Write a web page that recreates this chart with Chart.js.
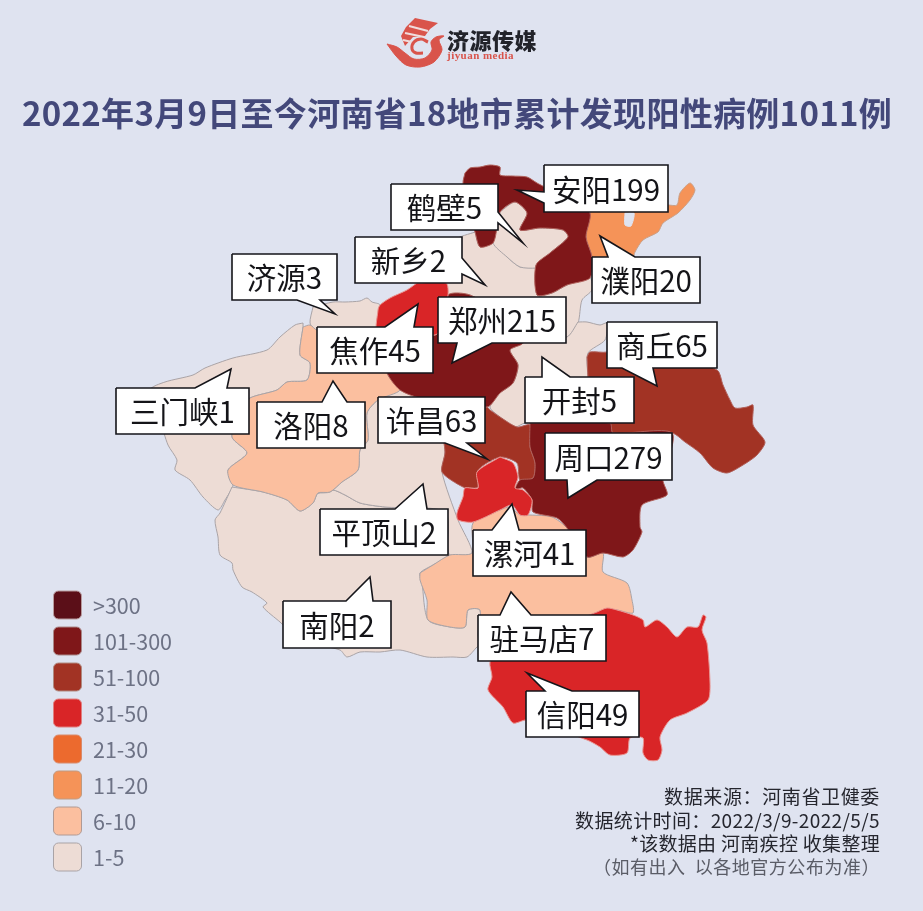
<!DOCTYPE html>
<html lang="zh"><head><meta charset="utf-8">
<style>html,body{margin:0;padding:0;background:#dfe3f0}canvas{display:block}</style>
<script src="https://cdn.jsdelivr.net/npm/chart.js@4"></script>
</head><body><canvas id="c" width="923" height="911"></canvas>
<script>
const titleText='2022年3月9日至今河南省18地市累计发现阳性病例1011例';
const regionNames=['三门峡','南阳','平顶山','济源','新乡','鹤壁','开封','洛阳','驻马店','濮阳','商丘','许昌','信阳','周口','郑州','安阳','焦作','漯河'];
const regionCounts=[1,2,2,3,2,5,5,8,7,20,65,63,49,279,215,199,45,41];
const legendLabels=['>300','101-300','51-100','31-50','21-30','11-20','6-10','1-5'];
const legendMins=[301,101,51,31,21,11,6,1];
const legendColors=['#5b0f18','#7f1719','#a23324','#d92527','#ec6a2e','#f59358','#fbbf9f','#eddcd5'];
const legendEdges=['#b79a9c','#aa8888','#b08a80','#e08080','#d98a6a','#c09a80','#b09a94','#a9a3a6'];
const sanmenxia=[[303,323],[295,325],[280,337],[267,350],[233,358],[205,368],[193,375],[165,382],[150,390],[160,420],[168,445],[177,460],[175,470],[190,480],[203,497],[218,510],[225,500],[233,485],[228,470],[247,453],[232,437],[240,410],[250,398],[277,390],[287,382],[307,380],[310,363],[300,355],[303,327]];
const nanyang=[[232,487],[263,492],[287,500],[300,511],[313,503],[318,493],[333,490],[345,495],[360,503],[385,507],[445,512],[448,550],[450,555],[433,565],[420,573],[422,583],[428,620],[450,627],[465,627],[468,610],[480,610],[480,645],[477,647],[467,657],[453,657],[427,657],[400,650],[380,652],[360,652],[347,657],[340,650],[300,640],[280,622],[263,607],[267,603],[252,592],[242,587],[233,570],[232,563],[220,555],[218,537],[215,520],[220,513]];
const pingdingshan=[[318,493],[330,492],[342,482],[358,470],[360,450],[368,440],[367,413],[378,400],[400,390],[440,400],[445,452],[442,472],[458,520],[472,553],[450,555],[448,550],[445,512],[385,507],[360,503],[345,495],[333,490]];
const jiyuan=[[313,307],[333,302],[345,302],[360,301],[367,298],[372,302],[380,305],[378,335],[316,330],[310,323]];
const xinxiang=[[475,232],[480,247],[493,243],[507,257],[520,267],[536,268],[537,295],[552,293],[567,285],[590,278],[592,290],[582,300],[578,323],[567,337],[523,343],[520,325],[470,295],[448,295],[446,283],[440,270],[455,240]];
const hebi=[[500,212],[515,202],[527,213],[520,230],[540,228],[563,230],[568,237],[550,253],[536,265],[536,268],[520,267],[507,257],[493,243],[497,228]];
const kaifeng=[[578,322],[587,322],[600,325],[607,323],[605,340],[588,353],[588,377],[590,400],[590,423],[525,423],[515,427],[500,417],[490,407],[500,393],[513,383],[518,365],[510,350],[523,343],[535,340],[567,337]];
const luoyang=[[303,327],[310,325],[317,330],[378,335],[388,375],[400,390],[378,400],[367,413],[368,440],[360,450],[358,470],[342,482],[330,492],[318,493],[313,503],[300,511],[287,500],[263,492],[233,485],[228,470],[247,453],[232,437],[240,410],[250,398],[277,390],[287,382],[307,380],[310,363],[300,355]];
const zhumadian=[[420,573],[433,565],[450,555],[472,553],[473,523],[500,510],[510,507],[520,515],[530,515],[552,517],[567,528],[587,557],[603,553],[603,572],[627,583],[632,600],[633,613],[617,610],[607,610],[605,620],[560,640],[480,640],[480,610],[468,610],[465,627],[450,627],[428,620],[427,600],[420,580]];
const puyang=[[590,213],[600,205],[668,205],[677,205],[680,193],[690,183],[695,190],[690,200],[678,213],[663,223],[658,232],[643,240],[635,252],[630,265],[592,265],[592,257],[586,237]];
const shangqiu=[[587,357],[590,352],[607,352],[640,340],[717,370],[723,385],[730,400],[735,408],[747,407],[753,405],[753,425],[765,442],[757,455],[743,465],[727,473],[713,468],[700,453],[685,442],[672,433],[613,433],[610,425],[590,423],[590,400],[588,377]];
const xuchang=[[490,410],[500,417],[517,427],[530,425],[530,447],[535,463],[533,478],[520,480],[517,463],[500,457],[478,470],[478,487],[473,488],[463,487],[442,472],[445,452],[440,400],[487,407]];
const xinyang=[[597,612],[607,608],[617,610],[633,615],[643,620],[645,627],[657,620],[667,627],[677,637],[687,627],[698,627],[703,615],[706,617],[702,630],[707,643],[710,683],[708,700],[687,713],[670,720],[660,737],[662,750],[658,760],[648,760],[643,753],[643,738],[630,738],[627,753],[610,755],[600,747],[587,740],[527,720],[513,723],[503,707],[488,690],[492,677],[490,662],[500,650]];
const zhoukou=[[530,423],[610,423],[613,433],[672,433],[663,480],[667,495],[642,505],[640,527],[642,532],[633,550],[623,557],[603,553],[587,557],[567,528],[557,518],[533,512],[532,500],[523,488],[515,490],[520,480],[533,478],[535,463],[530,447]];
const zhengzhou=[[378,335],[387,373],[400,390],[420,398],[487,407],[500,393],[513,383],[518,365],[510,350],[523,343],[520,325],[470,295],[448,295],[440,330],[435,335]];
const anyang=[[465,173],[470,168],[480,167],[490,165],[500,167],[500,175],[512,176],[527,177],[537,183],[545,187],[570,195],[590,213],[586,237],[592,257],[590,278],[567,285],[552,293],[537,295],[536,265],[550,253],[568,237],[563,230],[540,228],[520,230],[527,213],[515,202],[500,212],[497,228],[493,243],[480,247],[475,232],[468,210],[463,183]];
const jiaozuo=[[417,283],[446,283],[448,295],[440,330],[435,335],[378,335],[378,310],[380,305],[390,298],[407,290]];
const luohe=[[500,457],[513,463],[518,477],[515,488],[523,490],[532,500],[528,515],[520,515],[512,505],[500,510],[473,522],[458,520],[457,513],[463,497],[465,488],[478,488],[477,472]];
const regionOutlines=[sanmenxia,nanyang,pingdingshan,jiyuan,xinxiang,hebi,kaifeng,luoyang,zhumadian,puyang,shangqiu,xuchang,xinyang,zhoukou,zhengzhou,anyang,jiaozuo,luohe];
const puyangHole=[[625,213],[634,213],[631,226],[625,225]];
const calloutNames=['安阳','鹤壁','新乡','济源','焦作','郑州','洛阳','三门峡','许昌','平顶山','南阳','开封','商丘','濮阳','周口','漯河','驻马店','信阳'];
const calloutValues=[199,5,2,3,45,215,8,1,63,2,2,5,65,20,279,41,7,49];
const calloutBoxes=[[544,165,668,212],[391,184,498,230],[355,237,462,283],[232,254,337,300],[317,327,433,373],[438,297,566,343],[257,402,365,448],[116,388,249,434],[378,397,485,443],[320,509,448,555],[283,601,391,648],[525,377,634,423],[607,322,717,368],[592,257,700,303],[545,433,672,480],[473,530,586,576],[478,615,606,661],[526,691,639,737]];
const calloutSides=['l','r','r','b','t','b','t','t','b','t','t','t','b','t','b','t','t','t'];
const calloutTails=[[544,203,517,190,544,192],[498,212,523,243,498,223],[462,258,485,285,462,274],[320,300,335,314,297,300],[385,327,418,304,414,327],[492,343,452,363,457,343],[322,402,333,381,347,402],[195,388,231,369,227,388],[467,443,487,459,445,443],[395,509,423,484,427,509],[346,601,370,577,373,601],[542,377,542,357,570,377],[653,368,657,386,622,368],[608,257,600,236,635,257],[597,480,568,498,567,480],[492,530,512,504,519,530],[500,615,511,592,531,615],[545,691,527,673,572,691]];
const logoBanner=[[415,18],[438,23],[430,29],[425,36],[413,37],[405,46],[401,36],[406,27]];
const logoSwirl=[[387,44],[397,47],[405,53],[414,59],[425,58],[432,50],[431,42],[436,37],[444,36],[439,40],[442,50],[434,62],[420,67],[406,65],[396,56]];
const logoRing=[[428,42],[421,39],[414,42],[412,49],[416,53],[423,53]];
const logoStripeA=[[409,26],[428,31]];
const logoStripeB=[[405,33],[424,37]];
const logoStripeC=[[403,40],[412,42]];
const notes=['数据来源：河南省卫健委','数据统计时间：2022/3/9-2022/5/5','*该数据由 河南疾控 收集整理','（如有出入  以各地官方公布为准）'];

const CJK='"Noto Sans CJK SC","Noto Sans",sans-serif';
const toPts=a=>a.map(p=>({x:p[0],y:p[1]}));
const close=a=>[...a,a[0]];
const binIndex=v=>legendMins.findIndex(m=>v>=m);
function shape(pts,fill,edge,w,tension){return{data:toPts(close(pts)),showLine:true,fill:fill?'shape':false,backgroundColor:fill||'transparent',borderColor:edge||'transparent',borderWidth:w||0,pointRadius:0,pointHoverRadius:0,tension:tension||0,borderJoinStyle:tension?'round':'miter'};}
function calloutPoly(b,t,side){
 const [x0,y0,x1,y1]=b,base=[[t[0],t[1]],[t[4],t[5]]],tip=[t[2],t[3]];
 if(side==='t'){base.sort((p,q)=>p[0]-q[0]);return[[x0,y0],base[0],tip,base[1],[x1,y0],[x1,y1],[x0,y1]];}
 if(side==='r'){base.sort((p,q)=>p[1]-q[1]);return[[x0,y0],[x1,y0],base[0],tip,base[1],[x1,y1],[x0,y1]];}
 if(side==='b'){base.sort((p,q)=>q[0]-p[0]);return[[x0,y0],[x1,y0],[x1,y1],base[0],tip,base[1],[x0,y1]];}
 base.sort((p,q)=>q[1]-p[1]);return[[x0,y0],[x1,y0],[x1,y1],[x0,y1],base[0],tip,base[1]];
}
const regionEdge=v=>{const i=binIndex(v);return i>=6?'#a9a3a6':i>=4?'#c9a088':i===3?'#e9938f':'#b0605a';};
const datasets=[];
regionOutlines.forEach((o,i)=>datasets.push(shape(o,legendColors[binIndex(regionCounts[i])],regionEdge(regionCounts[i]),1,0.25)));
datasets.push(shape(puyangHole,'#dfe3f0','#dfe3f0',1,0.25));
calloutBoxes.forEach((b,i)=>datasets.push(shape(calloutPoly(b,calloutTails[i],calloutSides[i]),'#ffffff','#15151a',1.6)));
datasets.push(shape(logoBanner,'#d9544b'));
datasets.push(shape(logoSwirl,'#d9544b','#d9544b',1,0.3));
[logoStripeA,logoStripeB,logoStripeC].forEach(s=>datasets.push({data:toPts(s),showLine:true,fill:false,borderColor:'#f0dcdc',borderWidth:2.2,pointRadius:0}));
datasets.push({data:toPts(logoRing),showLine:true,fill:false,borderColor:'#d9544b',borderWidth:3,pointRadius:0,tension:0.4});
datasets.forEach((d,i)=>d.order=-i);

function fit(ctx,txt,x,y,width,font,color,align){
 ctx.font=font;ctx.fillStyle=color;ctx.textBaseline='middle';ctx.textAlign=align||'left';ctx.letterSpacing='0px';
 if(width){const m=ctx.measureText(txt).width;ctx.letterSpacing=((width-m)/txt.length).toFixed(3)+'px';}
 ctx.fillText(txt,x,y);ctx.letterSpacing='0px';
}
const overlay={id:'overlay',afterDatasetsDraw(chart){
 const ctx=chart.ctx,X=chart.scales.x,Y=chart.scales.y;ctx.save();
 const px=v=>X.getPixelForValue(v),py=v=>Y.getPixelForValue(v);
 fit(ctx,titleText,px(22),py(113),870,'700 33px '+CJK,'#43487a');
 fit(ctx,'济源传媒',px(447),py(41),90,'900 22px '+CJK,'#22232a');
 fit(ctx,'jiyuan media',px(447),py(56.5),67,'700 11px "Liberation Serif",serif','#d9544b');
 calloutBoxes.forEach((b,i)=>{
  fit(ctx,calloutNames[i]+calloutValues[i],px((b[0]+b[2])/2),py((b[1]+b[3])/2+1),0,'400 29.5px '+CJK,'#141418','center');
 });
 legendLabels.forEach((l,i)=>{
  const yc=605+36*i;
  ctx.beginPath();ctx.roundRect(px(53.5),py(yc-14),28,28,5);ctx.fillStyle=legendColors[i];ctx.fill();
  ctx.strokeStyle=legendEdges[i];ctx.lineWidth=1;ctx.stroke();
  fit(ctx,l,px(93),py(yc+1),i===1?79:0,'400 21.5px '+CJK,'#6d7285');
 });
 const noteLeft=[664,575,630,593],noteY=[797,821,844,867],noteCol=['#25262e','#25262e','#25262e','#5a5c66'],noteFont=[19,19,19,18];
 notes.forEach((n,i)=>fit(ctx,n,px(noteLeft[i]),py(noteY[i]),880-noteLeft[i],'400 '+noteFont[i]+'px '+CJK,noteCol[i]));
 ctx.restore();
}};
new Chart(document.getElementById('c'),{type:'scatter',data:{datasets},plugins:[overlay],options:{
 responsive:false,animation:false,devicePixelRatio:1,layout:{padding:0},
 scales:{x:{type:'linear',min:0,max:923,display:false},y:{type:'linear',min:0,max:911,reverse:true,display:false}},
 plugins:{legend:{display:false},tooltip:{enabled:false},title:{display:false},filler:{drawTime:'beforeDatasetDraw',propagate:false}},
 events:[]
}});
</script></body></html>
